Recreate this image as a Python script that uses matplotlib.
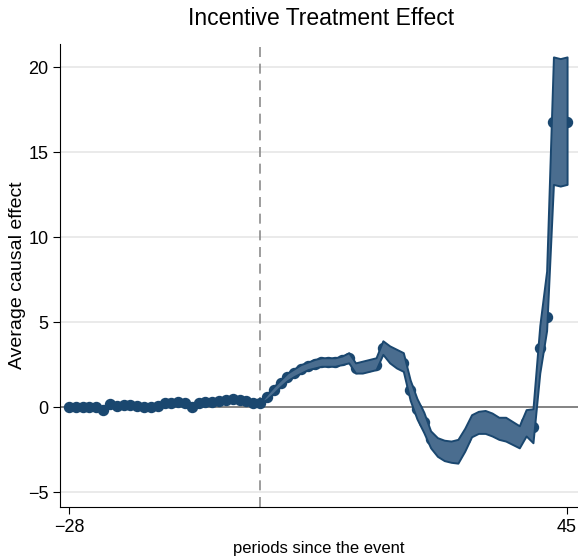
import numpy as np
import matplotlib.pyplot as plt

plt.rcParams['font.family'] = ['Liberation Sans Narrow', 'Liberation Sans', 'DejaVu Sans']

# pre-event periods (points only)
pre_t = list(range(-28, 0))
pre_est = [0.0, 0.0, 0.0, 0.0, 0.0, -0.15, 0.2, 0.05, 0.1, 0.1, 0.05, 0.0, 0.0, 0.05,
           0.25, 0.25, 0.3, 0.25, 0.0, 0.25, 0.3, 0.3, 0.35, 0.4, 0.5, 0.4, 0.35, 0.25]

# post-event periods with confidence band
post_t = list(range(0, 46))
post_est = [0.25, 0.6, 1.0, 1.4, 1.75, 2.0, 2.25, 2.4, 2.55, 2.65, 2.65, 2.65, 2.75, 2.9,
            2.3, 2.35, 2.4, 2.5, 3.5, 3.1, 2.9, 2.6, 1.0, -0.1, -0.9, -1.9, -2.35, -2.55,
            -2.6, -2.6, -1.9, -1.1, -0.9, -0.9, -1.0, -1.25, -1.3, -1.5, -1.75, -0.9, -1.2,
            3.5, 5.3, 16.8, 16.8, 16.8]
post_lo = [0.25, 0.45, 0.8, 1.2, 1.55, 1.8, 2.0, 2.2, 2.3, 2.4, 2.4, 2.4, 2.5, 2.6,
           2.0, 2.0, 2.1, 2.2, 3.1, 2.6, 2.3, 2.1, 0.4, -0.7, -1.5, -2.4, -2.9, -3.15,
           -3.25, -3.3, -2.6, -1.75, -1.55, -1.55, -1.7, -1.9, -2.0, -2.2, -2.4, -1.7, -2.1,
           2.0, 4.5, 13.1, 13.0, 13.1]
post_hi = [0.25, 0.75, 1.2, 1.6, 2.0, 2.25, 2.5, 2.65, 2.8, 2.9, 2.9, 2.9, 3.0, 3.2,
           2.6, 2.7, 2.8, 2.9, 3.9, 3.6, 3.4, 3.2, 1.6, 0.5, -0.3, -1.4, -1.8, -1.95,
           -2.0, -1.9, -1.25, -0.45, -0.25, -0.2, -0.35, -0.6, -0.6, -0.85, -1.1, -0.15, -0.1,
           4.8, 8.0, 20.6, 20.5, 20.6]

navy = '#1a476f'

fig = plt.figure(figsize=(5.78, 5.59), dpi=100)
ax = fig.add_axes([0.104, 0.093, 0.896, 0.828])

for y in [-5, 5, 10, 15, 20]:
    ax.axhline(y, color='#e6e6e6', lw=1.2, zorder=0)
ax.axhline(0, color='#7a7a7a', lw=1.3, zorder=1)
ax.axvline(0, color='#8c8c8c', lw=1.2, ls=(0, (6, 4)), zorder=1)

ax.plot(pre_t, pre_est, 'o', color=navy, ms=7.2, zorder=2)
ax.plot(post_t, post_est, 'o', color=navy, ms=7.2, zorder=2)
ax.fill_between(post_t, post_lo, post_hi, facecolor='#4a6d8f', edgecolor=navy, lw=1.4, zorder=3)

ax.set_xlim(-29.3, 46.6)
ax.set_ylim(-5.88, 21.35)
ax.set_xticks([-28, 45])
ax.set_xticklabels(['\u221228', '45'])
ax.set_yticks([-5, 0, 5, 10, 15, 20])
ax.set_yticklabels(['\u22125', '0', '5', '10', '15', '20'])
ax.tick_params(labelsize=13, length=5, color='black')
for s in ['top', 'right']:
    ax.spines[s].set_visible(False)

ax.set_xlabel('periods since the event', fontsize=12, labelpad=4)
ax.set_ylabel('Average causal effect', fontsize=14)
ax.yaxis.set_label_coords(-0.066, 0.5)
fig.text(0.555, 0.967, 'Incentive Treatment Effect', fontsize=16.5, ha='center', va='center')

fig.savefig('out.png', dpi=100)
